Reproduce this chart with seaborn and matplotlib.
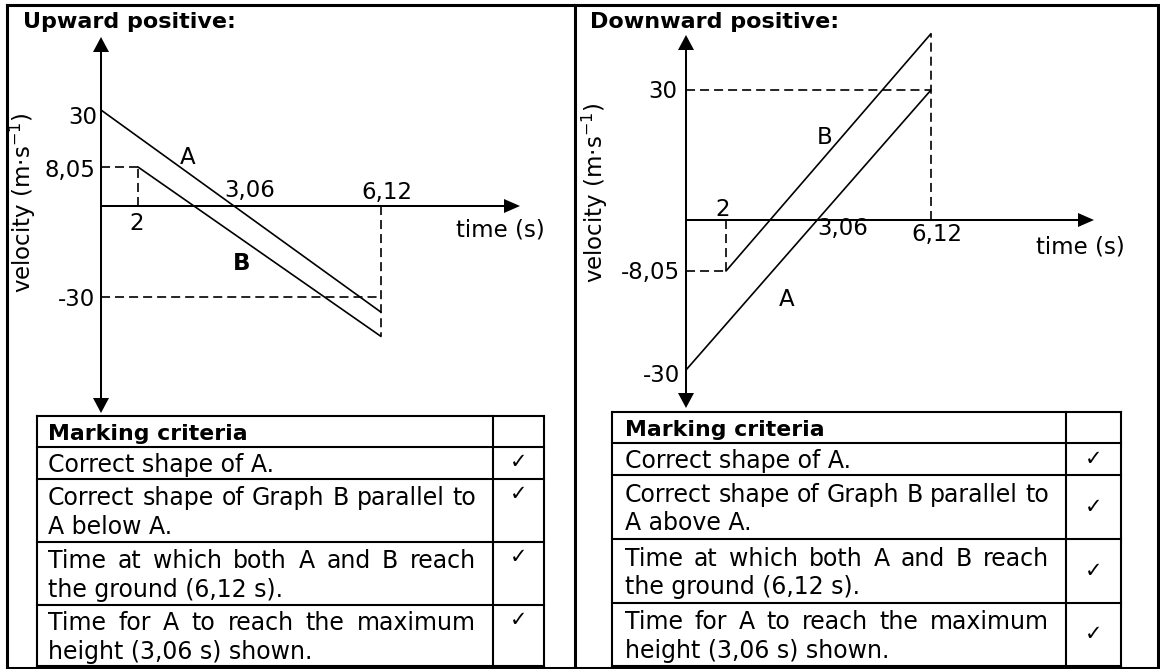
import numpy as np
import pandas as pd
import seaborn as sns
import matplotlib
matplotlib.use("Agg")
import matplotlib.pyplot as plt
from matplotlib.patches import Polygon

# ---------------------------------------------------------------- values
time_marks = [2.0, 3.06, 6.12]
time_mark_labels = ["2", "3,06", "6,12"]

# upward taken as positive
up_time_A = [0.0, 6.12]
up_vel_A = [30.0, -35.0]
up_time_B = [2.0, 6.12]
up_vel_B = [8.05, -43.0]
up_vel_marks = [30.0, 8.05, -30.0]
up_vel_labels = ["30", "8,05", "-30"]
up_ground_level = -30.0

# downward taken as positive
dn_time_A = [0.0, 6.12]
dn_vel_A = [-30.0, 30.0]
dn_time_B = [2.0, 6.12]
dn_vel_B = [-8.05, 43.0]
dn_vel_marks = [30.0, -8.05, -30.0]
dn_vel_labels = ["30", "-8,05", "-30"]
dn_ground_level = 30.0

criteria_header = "Marking criteria"
criteria_up = [["Correct shape of A."],
               ["Correct shape of Graph B parallel to", "A below A."],
               ["Time at which both A and B reach", "the ground (6,12 s)."],
               ["Time for A to reach the maximum", "height (3,06 s) shown."]]
criteria_dn = [["Correct shape of A."],
               ["Correct shape of Graph B parallel to", "A above A."],
               ["Time at which both A and B reach", "the ground (6,12 s)."],
               ["Time for A to reach the maximum", "height (3,06 s) shown."]]
tick = "\u2713"

# ---------------------------------------------------------------- style
sns.set_theme(style="white")
plt.rcParams["font.family"] = ["DejaVu Sans"]
plt.rcParams["lines.scale_dashes"] = False
plt.rcParams["mathtext.fontset"] = "dejavusans"
plt.rcParams["text.color"] = "black"

W, H, DPI = 1160, 669, 100
INK = "black"
LW_CURVE, LW_AXIS, LW_FRAME, LW_TABLE = 1.2, 1.45, 2.2, 1.5
DASH = (6.5, 3.6)
FS_LABEL, FS_TITLE, FS_BODY, FS_HEAD, FS_TICK = 16.5, 16, 17, 15.8, 15

fig = plt.figure(figsize=(W / DPI, H / DPI), dpi=DPI, facecolor="white")

# page-level layer in pixel units (frame, titles, tables)
ov = fig.add_axes([0, 0, 1, 1])
ov.set_xlim(0, W)
ov.set_ylim(H, 0)
ov.axis("off")
ov.set_facecolor("none")


def piecewise(src, dst):
    """Monotone piecewise-linear map with linear extrapolation."""
    src = np.asarray(src, float)
    dst = np.asarray(dst, float)
    lo = (dst[1] - dst[0]) / (src[1] - src[0])
    hi = (dst[-1] - dst[-2]) / (src[-1] - src[-2])

    def f(v):
        v = np.asarray(v, float)
        out = np.interp(v, src, dst)
        out = np.where(v < src[0], dst[0] + (v - src[0]) * lo, out)
        out = np.where(v > src[-1], dst[-1] + (v - src[-1]) * hi, out)
        return out
    return f


def arrow_head(x, y, direction, length=15, half=8):
    dx, dy = {"up": (0, -1), "down": (0, 1), "right": (1, 0)}[direction]
    bx, by = x - dx * length, y - dy * length
    px, py = -dy * half, dx * half
    ov.add_patch(Polygon([(x, y), (bx + px, by + py), (bx - px, by - py)],
                         closed=True, color=INK, lw=0))


panels = [
    dict(title="Upward positive:", title_x=23,
         tA=up_time_A, vA=up_vel_A, tB=up_time_B, vB=up_vel_B,
         vmarks=up_vel_marks, vlabels=up_vel_labels, ground=up_ground_level,
         t_px=[101, 138, 234, 381], v_px=[297, 206, 167, 110],
         ytips=(37, 413), xtip=520,
         vlab_off={"30": (-4, 5), "8,05": (-6, 1), "-30": (-6, 0)},
         tlab_off=[(-1, 16), (16, -17), (6, -16)],
         time_xy=(500, 230), vel_xy=(23, 203),
         curve_labels=[("A", 188, 155, "normal"), ("B", 242, 262, "bold")]),
    dict(title="Downward positive:", title_x=590,
         tA=dn_time_A, vA=dn_vel_A, tB=dn_time_B, vB=dn_vel_B,
         vmarks=dn_vel_marks, vlabels=dn_vel_labels, ground=dn_ground_level,
         t_px=[686, 726, 817, 931], v_px=[370, 271, 220, 90],
         ytips=(35, 408), xtip=1094,
         vlab_off={"30": (-9, 0), "-8,05": (-6, 0), "-30": (-6, 3)},
         tlab_off=[(-3, -13), (26, 7), (6, 13)],
         time_xy=(1080, 247), vel_xy=(595, 193),
         curve_labels=[("B", 825, 135, "normal"), ("A", 787, 297, "normal")]),
]

for p in panels:
    t_knots = [0.0] + time_marks
    v_knots = sorted([0.0] + p["vmarks"])
    fx, ix = piecewise(t_knots, p["t_px"]), piecewise(p["t_px"], t_knots)
    neg_px = [-v for v in p["v_px"]]
    fy, iy = piecewise(v_knots, neg_px), piecewise(neg_px, v_knots)

    ax = fig.add_axes([0, 0, 1, 1])
    ax.set_facecolor("none")
    df = pd.DataFrame({
        "time": p["tA"] + p["tB"],
        "velocity": p["vA"] + p["vB"],
        "object": ["A"] * len(p["tA"]) + ["B"] * len(p["tB"]),
    })
    sns.lineplot(data=df, x="time", y="velocity", hue="object",
                 palette={"A": INK, "B": INK}, estimator=None, sort=False,
                 lw=LW_CURVE, legend=False, ax=ax)

    # dashed guides
    tB0, vB0, tEnd, vBend = p["tB"][0], p["vB"][0], p["tB"][-1], p["vB"][-1]
    g = p["ground"]
    for xs, ys in [([0, tB0], [vB0, vB0]), ([tB0, tB0], [0, vB0]),
                   ([0, tEnd], [g, g]), ([tEnd, tEnd], [0, vBend])]:
        ax.plot(xs, ys, color=INK, lw=LW_CURVE, dashes=DASH)

    ax.set_xscale("function", functions=(fx, ix))
    ax.set_yscale("function", functions=(fy, iy))
    ax.set_xlim(float(ix(0.0)), float(ix(W)))
    ax.set_ylim(float(iy(-H)), float(iy(0.0)))
    ax.axis("off")

    # value labels on the axes
    for val, lab in zip(p["vmarks"], p["vlabels"]):
        dx, dy = p["vlab_off"][lab]
        ax.annotate(lab, (0.0, val), xytext=(dx, -(dy + 2)),
                    textcoords="offset pixels", ha="right", va="center",
                    fontsize=FS_LABEL, color=INK, annotation_clip=False)
    for val, lab, (dx, dy) in zip(time_marks, time_mark_labels, p["tlab_off"]):
        ax.annotate(lab, (val, 0.0), xytext=(dx, -(dy + 2)),
                    textcoords="offset pixels", ha="center", va="center",
                    fontsize=FS_LABEL, color=INK, annotation_clip=False)

    # axes with arrows
    x0 = float(fx(0.0))
    y0 = -float(fy(0.0))
    top, bot = p["ytips"]
    ov.plot([x0, x0], [top + 14, bot - 14], color=INK, lw=LW_AXIS)
    arrow_head(x0, top, "up")
    arrow_head(x0, bot, "down")
    ov.plot([x0, p["xtip"] - 14], [y0, y0], color=INK, lw=LW_AXIS)
    arrow_head(p["xtip"], y0, "right", length=16, half=7)

    ov.text(*p["time_xy"], "time (s)", ha="center", va="center",
            fontsize=FS_LABEL, color=INK)
    ov.text(*p["vel_xy"], "velocity (m\u00b7s$^{-1}$)", rotation=90,
            ha="center", va="center", fontsize=FS_LABEL, color=INK)
    for lab, x, y, wt in p["curve_labels"]:
        ov.text(x, y + 2, lab, ha="center", va="center", fontsize=FS_LABEL,
                fontweight=wt, color=INK)
    ov.text(p["title_x"], 28, p["title"], ha="left", va="baseline",
            fontsize=FS_TITLE, fontweight="bold", color=INK)

# ---------------------------------------------------------------- frame
frame_x = [6.5, 575, 1157.5]
frame_top, frame_bot = 5, 667.5
ov.plot([frame_x[0], frame_x[-1]], [frame_top, frame_top], color=INK, lw=LW_FRAME,
        solid_capstyle="projecting")
ov.plot([frame_x[0], frame_x[-1]], [frame_bot, frame_bot], color=INK, lw=LW_FRAME,
        solid_capstyle="projecting")
for fxp in frame_x:
    ov.plot([fxp, fxp], [frame_top, frame_bot], color=INK, lw=LW_FRAME,
            solid_capstyle="projecting")

# ---------------------------------------------------------------- tables
renderer = fig.canvas.get_renderer()


def justified(text, x0, x1, y):
    words = text.split()
    objs = [ov.text(x0, y, w, ha="left", va="center", fontsize=FS_BODY, color=INK)
            for w in words]
    widths = [o.get_window_extent(renderer).width for o in objs]
    gap = (x1 - x0 - sum(widths)) / (len(words) - 1)
    x = x0
    for o, w in zip(objs, widths):
        o.set_x(x)
        x += w + gap


def table(rows, x0, xdiv, x1, ys, pad, right_text, tick_top):
    for y in ys:
        ov.plot([x0, x1], [y, y], color=INK, lw=LW_TABLE, solid_capstyle="projecting")
    for x in (x0, xdiv, x1):
        ov.plot([x, x], [ys[0], ys[-1]], color=INK, lw=LW_TABLE,
                solid_capstyle="projecting")
    ov.text(x0 + pad, (ys[0] + ys[1]) / 2 + 2, criteria_header, ha="left",
            va="center", fontsize=FS_HEAD, fontweight="bold", color=INK)
    for i, lines in enumerate(rows):
        top, bottom = ys[i + 1], ys[i + 2]
        mid = (top + bottom) / 2
        n = len(lines)
        for j, line in enumerate(lines):
            y = mid + (j - (n - 1) / 2) * 28.5 + 2
            if j < n - 1:
                justified(line, x0 + pad, right_text, y)
            else:
                ov.text(x0 + pad, y, line, ha="left", va="center",
                        fontsize=FS_BODY, color=INK)
        ty = top + 15 if tick_top else mid
        ov.text((xdiv + x1) / 2, ty, tick, ha="center", va="center",
                fontsize=FS_TICK, color=INK)


table(criteria_up, 37, 493, 544, [416, 447, 479, 542, 605, 666], 11, 476, True)
table(criteria_dn, 612, 1066, 1121, [412, 443, 475, 539, 603, 666], 13, 1049, False)

fig.savefig("out.png", dpi=DPI, facecolor="white")
